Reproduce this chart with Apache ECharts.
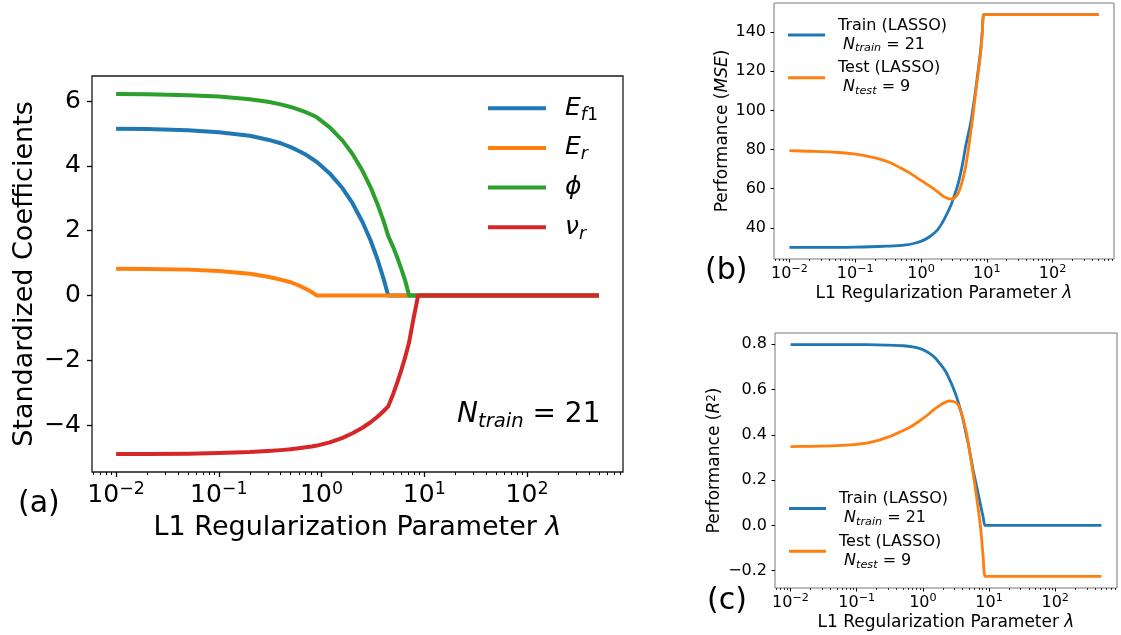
<!DOCTYPE html>
<html>
<head>
<meta charset="utf-8">
<script src="https://cdn.jsdelivr.net/npm/echarts@6/dist/echarts.min.js"></script>
<style>
  html, body { margin: 0; padding: 0; background: #fff; }
  #chart { width: 1121px; height: 635px; }
</style>
</head>
<body>
<div id="chart"></div>
<script>
// ---- (a) LASSO coefficient paths: [lambda, standardized coefficient] ----
const coefEf1 = [[0.01,5.15],[0.02,5.14],[0.05,5.10],[0.1,5.04],[0.2,4.93],[0.3,4.81],[0.4,4.70],[0.5,4.58],[0.6,4.46],[0.7,4.35],[0.8,4.23],[0.9,4.12],[1.2,3.77],[1.6,3.31],[2,2.85],[2.5,2.27],[3,1.70],[3.5,1.12],[4,0.53],[4.45,0],[500,0]];
const coefEr = [[0.01,0.83],[0.02,0.82],[0.05,0.80],[0.1,0.76],[0.2,0.67],[0.3,0.58],[0.4,0.49],[0.5,0.41],[0.6,0.31],[0.7,0.21],[0.8,0.11],[0.9,0],[500,0]];
const coefPhi = [[0.01,6.22],[0.02,6.21],[0.05,6.18],[0.1,6.14],[0.2,6.06],[0.3,5.98],[0.4,5.90],[0.5,5.82],[0.6,5.74],[0.7,5.66],[0.8,5.58],[0.9,5.50],[1.2,5.19],[1.6,4.78],[2,4.37],[2.5,3.85],[3,3.34],[3.5,2.82],[4,2.31],[4.45,1.84],[5,1.48],[5.5,1.14],[6,0.80],[6.5,0.47],[7.1,0],[500,0]];
const coefNu = [[0.01,-4.89],[0.02,-4.89],[0.05,-4.88],[0.1,-4.86],[0.2,-4.83],[0.3,-4.80],[0.4,-4.77],[0.5,-4.74],[0.6,-4.71],[0.7,-4.68],[0.8,-4.66],[0.9,-4.63],[1.2,-4.53],[1.6,-4.39],[2,-4.25],[2.5,-4.08],[3,-3.91],[3.5,-3.74],[4,-3.57],[4.45,-3.42],[5,-3.02],[5.5,-2.65],[6,-2.28],[6.5,-1.91],[7.1,-1.45],[7.8,-0.75],[8.7,0],[500,0]];

// ---- (b) mean squared error vs lambda ----
const trainMSE = [[0.01,30.0],[0.02,30.0],[0.05,30.0],[0.1,30.1],[0.17,30.3],[0.3,30.6],[0.55,31.1],[0.8,32.1],[1.1,33.7],[1.4,35.8],[1.77,38.8],[2.1,42.5],[2.5,47.4],[2.85,51.5],[3.17,55.9],[3.6,61.5],[4.0,67.8],[4.4,74.8],[4.76,81.5],[5.2,87.5],[5.68,93.4],[6.2,101.5],[6.77,110.5],[7.4,120.5],[8.07,130.9],[8.5,139.5],[9.0,148.9],[10,148.9],[500,148.9]];
const testMSE = [[0.01,79.4],[0.02,79.1],[0.05,78.6],[0.1,77.6],[0.17,76.2],[0.25,74.8],[0.34,73.2],[0.5,70.4],[0.69,67.8],[1.0,64.2],[1.4,61.0],[1.8,58.3],[2.23,55.9],[2.6,54.9],[3.0,54.7],[3.4,56.0],[3.77,58.4],[4.3,64.5],[4.76,71.2],[5.2,79.0],[5.68,88.3],[6.2,98.0],[6.77,108.8],[7.4,119.0],[8.07,129.3],[8.5,138.5],[9.0,148.9],[10,148.9],[500,148.9]];

// ---- (c) coefficient of determination vs lambda ----
const trainR2 = [[0.01,0.798],[0.05,0.798],[0.1,0.798],[0.2,0.797],[0.3,0.796],[0.51,0.793],[0.7,0.788],[0.91,0.780],[1.1,0.770],[1.28,0.758],[1.55,0.738],[1.81,0.714],[2.2,0.680],[2.57,0.640],[2.9,0.604],[3.24,0.566],[3.65,0.516],[4.08,0.463],[4.45,0.41],[4.85,0.36],[5.3,0.30],[5.76,0.243],[6.3,0.19],[6.86,0.14],[7.5,0.085],[8.15,0.037],[8.7,0.0],[10,0.0],[500,0.0]];
const testR2 = [[0.01,0.348],[0.02,0.349],[0.05,0.352],[0.1,0.358],[0.16,0.366],[0.32,0.393],[0.45,0.412],[0.645,0.434],[0.9,0.462],[1.15,0.485],[1.45,0.510],[1.81,0.530],[2.2,0.544],[2.57,0.549],[2.9,0.547],[3.24,0.540],[3.55,0.522],[3.85,0.493],[4.2,0.452],[4.58,0.405],[5.0,0.34],[5.45,0.272],[5.95,0.20],[6.48,0.125],[7.0,0.055],[7.53,-0.022],[8.15,-0.14],[8.7,-0.225],[10,-0.225],[500,-0.225]];

// ---- tick values ----
const xMajorTicks = [0.01, 0.1, 1, 10, 100];
const yTicksA = [-4, -2, 0, 2, 4, 6];
const yTicksB = [40, 60, 80, 100, 120, 140];
const yTicksC = [-0.2, 0.0, 0.2, 0.4, 0.6, 0.8];

// minor log ticks 2..9 x 10^k
const xMinorTicks = [];
for (let k = -3; k <= 2; k++) {
  for (let m = 2; m <= 9; m++) xMinorTicks.push(+(m * Math.pow(10, k)).toPrecision(3));
}

const FONT = 'DejaVu Sans';
const BLUE = '#1f77b4', ORANGE = '#ff7f0e', GREEN = '#2ca02c', RED = '#d62728';
// log-axis limits: data span 0.01..500 padded by 5% in log space
const X_MIN = 0.005823, X_MAX = 858.8;

function logLabel(v) {
  const e = Math.round(Math.log10(v));
  return '{b|10}{s|' + (e < 0 ? '\u2212' + (-e) : String(e)) + '}';
}
function minusInt(v) { return String(v).replace('-', '\u2212'); }
function minusOne(v) { return v.toFixed(1).replace('-', '\u2212'); }

function xPair(gi, c) {
  return [{
    type: 'log', logBase: 10, gridIndex: gi, position: 'bottom', min: X_MIN, max: X_MAX,
    axisLine: { show: false, onZero: false }, splitLine: { show: false },
    axisTick: { show: true, length: c.tickLen, lineStyle: { color: '#000', width: c.tickW }, customValues: xMajorTicks },
    axisLabel: {
      show: true, customValues: xMajorTicks, margin: c.labelMargin, formatter: logLabel,
      rich: {
        b: { fontFamily: FONT, fontSize: c.fs, lineHeight: c.lh, color: '#000' },
        s: { fontFamily: FONT, fontSize: c.fs * 0.7, lineHeight: c.supLh, verticalAlign: 'top', color: '#000' }
      }
    },
    name: 'L1 Regularization Parameter {i|\u03bb}', nameLocation: 'middle', nameGap: c.nameGap,
    nameTextStyle: {
      fontFamily: FONT, fontSize: c.nameFs, color: '#000',
      rich: { i: { fontFamily: FONT, fontSize: c.nameFs, fontStyle: 'italic', color: '#000' } }
    }
  }, {
    type: 'log', logBase: 10, gridIndex: gi, position: 'bottom', min: X_MIN, max: X_MAX,
    axisLine: { show: false, onZero: false }, splitLine: { show: false }, axisLabel: { show: false },
    axisTick: { show: true, length: c.minorLen, lineStyle: { color: '#000', width: c.minorW }, customValues: xMinorTicks }
  }];
}

function yAx(gi, c) {
  return {
    type: 'value', gridIndex: gi, position: 'left', min: c.min, max: c.max,
    axisLine: { show: false, onZero: false }, splitLine: { show: false },
    axisTick: { show: true, length: c.tickLen, lineStyle: { color: '#000', width: c.tickW }, customValues: c.ticks },
    axisLabel: { show: true, customValues: c.ticks, margin: c.labelMargin, formatter: c.fmt, fontFamily: FONT, fontSize: c.fs, color: '#000' },
    name: c.name, nameLocation: 'middle', nameGap: c.nameGap, nameRotate: 90,
    nameTextStyle: {
      fontFamily: FONT, fontSize: c.nameFs, color: '#000',
      rich: {
        i: { fontFamily: FONT, fontSize: c.nameFs, fontStyle: 'italic', color: '#000' },
        p: { fontFamily: FONT, fontSize: c.nameFs * 0.7, verticalAlign: 'top', lineHeight: 10, color: '#000' }
      }
    }
  };
}

function line(name, data, color, width, xi, yi, smooth) {
  return {
    type: 'line', name: name, data: data, xAxisIndex: xi, yAxisIndex: yi,
    showSymbol: false, symbol: 'none', smooth: smooth || false, clip: false,
    color: color, itemStyle: { color: color },
    lineStyle: { color: color, width: width, cap: 'butt', join: 'round' },
    emphasis: { disabled: true }, silent: true
  };
}

const axA = { tickLen: 5, tickW: 1.3, minorLen: 3, minorW: 1, fs: 25, lh: 30, supLh: 12, labelMargin: 8, nameGap: 42, nameFs: 27 };
const axS = { tickLen: 3.5, tickW: 1, minorLen: 2, minorW: 0.8, fs: 16, lh: 19, supLh: 8, labelMargin: 5, nameGap: 26, nameFs: 17 };

const subStyles = (fs, lh, subLh) => ({
  t0: { fontFamily: FONT, fontSize: fs, lineHeight: lh, color: '#000', padding: [0, 0, 0, 8] },
  t: { fontFamily: FONT, fontSize: fs, lineHeight: lh, color: '#000' },
  n: { fontFamily: FONT, fontSize: fs, lineHeight: lh, fontStyle: 'italic', color: '#000' },
  s: { fontFamily: FONT, fontSize: fs * 0.7, lineHeight: subLh, fontStyle: 'italic', verticalAlign: 'bottom', color: '#000' }
});

const legendNames = {
  ef1: '{m|E}{s|f}{r|1}', er: '{m|E}{s|r}', phi: '{m|\u03d5}', nu: '{m|\u03bd}{s|r}',
  trainB: '{t0|Train (LASSO)}\n{t0| }{n|N}{s|train}{t| = 21}',
  testB: '{t0|Test (LASSO)}\n{t0| }{n|N}{s|test}{t| = 9}',
  trainC: '{t0|Train (LASSO)}\n{t0| }{n|N}{s|train}{t| = 21}',
  testC: '{t0|Test (LASSO)}\n{t0| }{n|N}{s|test}{t| = 9}'
};

// one legend block per coefficient so every entry sits on its own row
const legendA = ['ef1', 'er', 'phi', 'nu'].map((n, i) => ({
  data: [n], orient: 'vertical', left: 488, top: 95.7 + i * 39.7, padding: 0,
  itemWidth: 58, itemHeight: 4, itemGap: 0, icon: 'rect', selectedMode: false,
  formatter: k => legendNames[k],
  textStyle: {
    rich: {
      m: { fontFamily: FONT, fontSize: 25, lineHeight: 32, fontStyle: 'italic', color: '#000', padding: [0, 0, 0, 14] },
      s: { fontFamily: FONT, fontSize: 17.5, lineHeight: 10, fontStyle: 'italic', verticalAlign: 'bottom', color: '#000' },
      r: { fontFamily: FONT, fontSize: 17.5, lineHeight: 10, verticalAlign: 'bottom', color: '#000' }
    }
  }
}));

const option = {
  animation: false,
  backgroundColor: '#fff',
  grid: [
    { left: 92, top: 76, width: 531, height: 396, show: true, borderColor: '#1a1a1a', borderWidth: 1.3 },
    { left: 774, top: 3, width: 340, height: 256, show: true, borderColor: '#777', borderWidth: 1 },
    { left: 775, top: 333, width: 342, height: 255, show: true, borderColor: '#777', borderWidth: 1 }
  ],
  xAxis: [].concat(xPair(0, axA), xPair(1, axS), xPair(2, axS)),
  yAxis: [
    yAx(0, { min: -5.445, max: 6.775, ticks: yTicksA, fmt: minusInt, tickLen: 5, tickW: 1.3, fs: 25, labelMargin: 11,
             name: 'Standardized Coefficients', nameGap: 54, nameFs: 27 }),
    yAx(1, { min: 24.05, max: 154.85, ticks: yTicksB, fmt: minusInt, tickLen: 3.5, tickW: 1, fs: 16, labelMargin: 8,
             name: 'Performance ({i|MSE})', nameGap: 43, nameFs: 17 }),
    yAx(2, { min: -0.2762, max: 0.8492, ticks: yTicksC, fmt: minusOne, tickLen: 3.5, tickW: 1, fs: 16, labelMargin: 8,
             name: 'Performance ({i|R}{p|2})', nameGap: 52, nameFs: 17 })
  ],
  legend: legendA.concat([
    {
      data: ['trainB', 'testB'], orient: 'vertical', left: 788, top: 17.5, padding: 0,
      itemWidth: 37, itemHeight: 3, itemGap: 6.3, icon: 'rect', selectedMode: false,
      formatter: n => legendNames[n],
      textStyle: { rich: subStyles(16, 19, 7) }
    },
    {
      data: ['trainC', 'testC'], orient: 'vertical', left: 789, top: 491, padding: 0,
      itemWidth: 37, itemHeight: 3, itemGap: 6.3, icon: 'rect', selectedMode: false,
      formatter: n => legendNames[n],
      textStyle: { rich: subStyles(16, 19, 7) }
    }
  ]),
  graphic: [
    { type: 'text', x: 18, y: 504, style: { text: '(a)', font: '30px "DejaVu Sans"', fill: '#000', verticalAlign: 'middle' } },
    { type: 'text', x: 705, y: 271, style: { text: '(b)', font: '30px "DejaVu Sans"', fill: '#000', verticalAlign: 'middle' } },
    { type: 'text', x: 707, y: 601, style: { text: '(c)', font: '30px "DejaVu Sans"', fill: '#000', verticalAlign: 'middle' } },
    {
      type: 'text', x: 457, y: 415,
      style: {
        text: '{n|N}{s|train}{t| = 21}', verticalAlign: 'middle',
        rich: {
          n: { fontFamily: FONT, fontSize: 28, lineHeight: 34, fontStyle: 'italic', color: '#000' },
          t: { fontFamily: FONT, fontSize: 28, lineHeight: 34, color: '#000' },
          s: { fontFamily: FONT, fontSize: 19.6, lineHeight: 12, fontStyle: 'italic', verticalAlign: 'bottom', color: '#000' }
        }
      }
    }
  ],
  series: [
    line('ef1', coefEf1, BLUE, 4, 0, 0),
    line('er', coefEr, ORANGE, 4, 0, 0),
    line('phi', coefPhi, GREEN, 4, 0, 0),
    line('nu', coefNu, RED, 4, 0, 0),
    line('trainB', trainMSE, BLUE, 2.8, 2, 1, 0.25),
    line('testB', testMSE, ORANGE, 2.8, 2, 1, 0.25),
    line('trainC', trainR2, BLUE, 2.8, 4, 2, 0.25),
    line('testC', testR2, ORANGE, 2.8, 4, 2, 0.25)
  ]
};

const chart = echarts.init(document.getElementById('chart'), null, { renderer: 'canvas' });
chart.setOption(option);
</script>
</body>
</html>
